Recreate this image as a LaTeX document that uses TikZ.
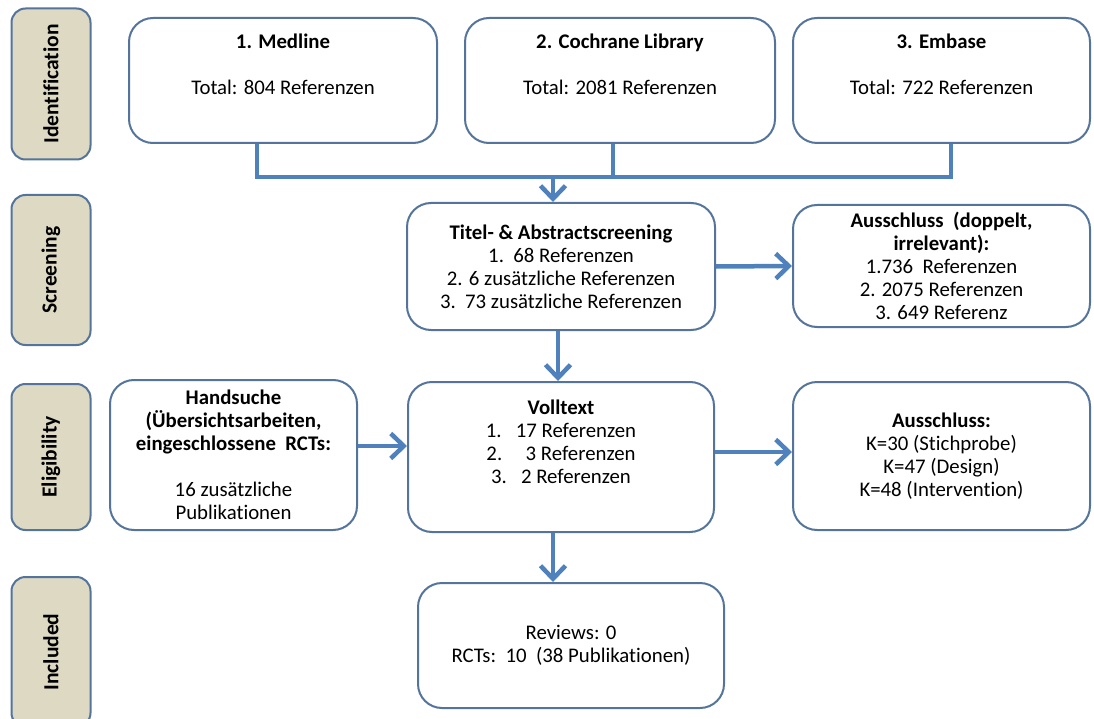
\documentclass[tikz,border=0pt]{standalone}
\usepackage{fontspec}
\setmainfont{Carlito}[Ligatures=NoCommon]
\usetikzlibrary{arrows.meta,positioning}
\definecolor{MyBlue}{RGB}{79,129,189}
\definecolor{MyEdge}{RGB}{84,116,156}
\definecolor{MyTan}{RGB}{221,217,195}

\begin{document}
\begin{tikzpicture}[x=1pt,y=-1pt,
                every node/.style={font=\fontsize{20.8}{23}\selectfont},
                phase/.style={rounded corners=14pt,draw=MyEdge,line width=2pt,fill=MyTan,inner sep=0pt,rotate=90,
                    minimum height=79pt,font=\fontsize{21.5}{23}\selectfont\bfseries},
                box/.style={rounded corners=24pt,draw=MyEdge,line width=2pt,fill=white,inner sep=0pt,align=center},
                txt/.style={inner sep=0pt,align=center},
                link/.style={MyBlue,line width=4.5pt},
                arr/.style={link,-{Straight Barb[length=13pt,width=25pt]}}
            ]
                \useasboundingbox (0,0) rectangle (1094,719);
                % Phase labels on the left
                \foreach \n/\t/\y/\h in {ident/Identification/84/151,screen/Screening/270/150,
                                          elig/Eligibility/457/146,incl/Included/652/150} {
                    \node[phase,minimum width=\h pt] (\n) at (51,\y) {\t};
                }
                % Databases
                \foreach \n/\x/\w/\a/\b in {med/283/308/1. Medline/804,coch/620/310/2. Cochrane Library/2081,
                                             emb/941.5/297/3. Embase/722} {
                    \node[box,minimum width=\w pt,minimum height=125pt] (\n) at (\x,80.5) {};
                    \node[txt,below=17pt of \n.north] (\n t) {\textbf{\a}\\[23pt]Total: \b\ Referenzen};
                }
                % Screening
                \node[box,minimum width=308pt,minimum height=127pt] (titel) at (561,266.5)
                    {\textbf{Titel- \& Abstractscreening}\\1.~~68 Referenzen\\2. 6 zusätzliche Referenzen\\3.~~73 zusätzliche Referenzen};
                \node[box,minimum width=297pt,minimum height=122pt] (aus1) at (941.5,266)
                    {\textbf{Ausschluss~~(doppelt,}\\\textbf{irrelevant):}\\1.736~~Referenzen\\2. 2075 Referenzen\\3. 649 Referenz};
                % Eligibility
                \node[box,minimum width=247pt,minimum height=150pt] (hand) at (233.5,455)
                    {\textbf{Handsuche}\\\textbf{(Übersichtsarbeiten,}\\\textbf{eingeschlossene~~RCTs:}\\[23pt]16 zusätzliche\\Publikationen};
                \node[box,minimum width=306pt,minimum height=150pt] (vol) at (561,457) {};
                \node[txt,below=19pt of vol.north] (volt)
                    {\textbf{Volltext}\\1.~~~17 Referenzen\\2.~~~~~3 Referenzen\\3.~~~2 Referenzen};
                \node[box,minimum width=297pt,minimum height=148pt] (aus2) at (941.5,456)
                    {\textbf{Ausschluss:}\\K=30 (Stichprobe)\\K=47 (Design)\\K=48 (Intervention)};
                % Included
                \node[box,minimum width=306pt,minimum height=125pt] (final) at (571,645.5)
                    {Reviews: 0\\RCTs:~~10~~(38 Publikationen)};
                % Connectors
                \coordinate (merge) at (553,177);
                \draw[link] ([xshift=-26pt]med.south) |- (merge);
                \draw[link] ([xshift=-7pt]coch.south) |- (merge);
                \draw[link] ([xshift=9.5pt]emb.south) |- (merge);
                \draw[arr] (merge) -- (merge |- titel.north);
                \draw[arr] (titel.east) -- (aus1.west);
                \draw[arr] ([xshift=-3pt]titel.south) -- ([xshift=-3pt]titel.south |- vol.north);
                \draw[arr] ([yshift=9pt]hand.east) -- ([yshift=9pt]hand.east -| vol.west);
                \draw[arr] ([yshift=5pt]vol.east) -- ([yshift=5pt]vol.east -| aus2.west);
                \draw[arr] ([xshift=-8pt]vol.south) -- ([xshift=-8pt]vol.south |- final.north);
            \end{tikzpicture}
\end{document}
